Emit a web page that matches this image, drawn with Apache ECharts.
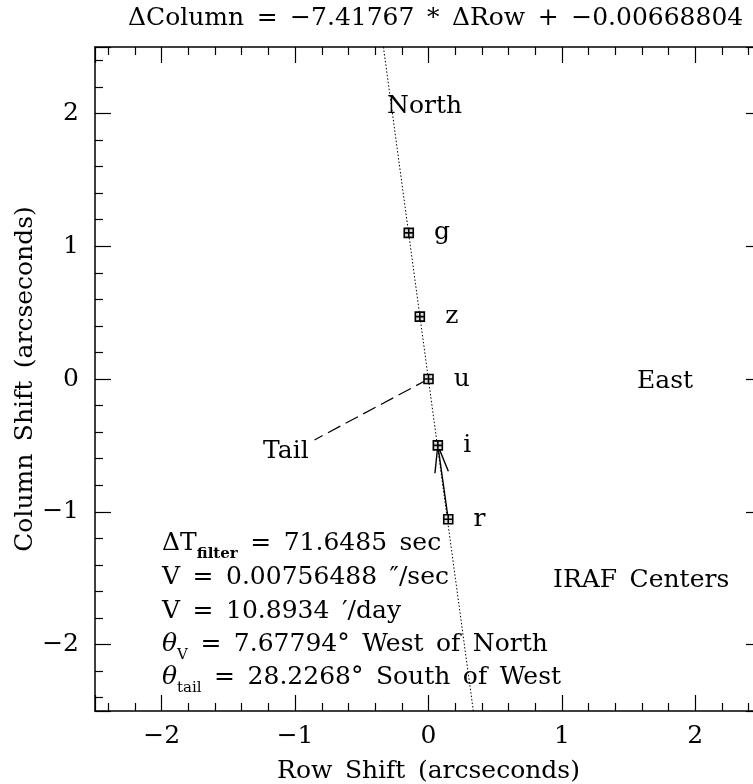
<!DOCTYPE html>
<html><head><meta charset="utf-8">
<script src="https://cdn.jsdelivr.net/npm/echarts@6/dist/echarts.min.js"></script>
<style>html,body{margin:0;padding:0;background:#fff}#c{width:753px;height:784px}</style>
</head><body><div id="c"></div>
<script>
// ---- data ----
const filterNames = ['g', 'z', 'u', 'i', 'r'];
const rowShift = [-0.148, -0.065, 0.0, 0.07, 0.148];
const columnShift = [1.10, 0.47, 0.0, -0.50, -1.056];
const fitSlope = -7.41767;
const fitIntercept = -0.00668804;
const axisRange = [-2.5, 2.5];
const tickLabels = [-2, -1, 0, 1, 2];
const deltaTFilter = 71.6485;
const velocityPerSec = 0.00756488;
const velocityPerDay = 10.8934;
const thetaV = 7.67794;
const thetaTail = 28.2268;
const tailLength = 0.97;
const tailOrigin = 'u';
const arrowFrom = 'r';
const arrowTo = 'i';

// ---- helpers ----
const F = '"DejaVu Serif", "Liberation Serif", serif';
const FS = 25;
const sp = s => s.replace(/ /g, '\u2002');
const fmt = v => (v < 0 ? '\u2212' + String(Math.abs(v)) : String(v));

const fitLine = axisRange.map(y => [(y - fitIntercept) / fitSlope, y]);
const iu = filterNames.indexOf(tailOrigin);
const tr = thetaTail * Math.PI / 180;
const tailLine = [
  [rowShift[iu], columnShift[iu]],
  [rowShift[iu] - tailLength * Math.cos(tr), columnShift[iu] - tailLength * Math.sin(tr)]
];
const ia = filterNames.indexOf(arrowFrom), ib = filterNames.indexOf(arrowTo);

function labelFmt(v) {
  const hit = tickLabels.find(t => Math.abs(t - v) < 1e-9);
  return hit === undefined ? '' : fmt(hit);
}

function axisCfg(pos, showLabel, extra) {
  return Object.assign({
    type: 'value', min: axisRange[0], max: axisRange[1], position: pos,
    nameMoveOverlap: false,
    axisLine: { show: true, onZero: false, lineStyle: { color: '#000', width: 1.5 } },
    axisTick: { show: true, inside: true, length: 16, lineStyle: { color: '#000', width: 1.2 } },
    minorTick: { show: true, splitNumber: 5, length: 8, lineStyle: { color: '#000', width: 1.2 } },
    splitLine: { show: false }, minorSplitLine: { show: false },
    axisLabel: { show: showLabel, formatter: labelFmt, color: '#000', fontFamily: F, fontSize: FS },
    nameTextStyle: { color: '#000', fontFamily: F, fontSize: FS }
  }, extra || {});
}

const rich = {
  m: { fontFamily: F, fontSize: FS, lineHeight: 38, fill: '#000' },
  it: { fontFamily: F, fontSize: FS, lineHeight: 38, fill: '#000', fontStyle: 'italic' },
  s: { fontFamily: F, fontSize: 15, lineHeight: 15, fill: '#000', verticalAlign: 'bottom' },
  b: { fontFamily: F, fontSize: 15, lineHeight: 15, fill: '#000', verticalAlign: 'bottom', fontWeight: 'bold' }
};
function txt(x, y, text, useRich) {
  const style = { text: sp(text), x: 0, y: 0, fill: '#000', fontFamily: F, fontSize: FS, align: 'left', verticalAlign: 'middle' };
  if (useRich) style.rich = rich;
  return { type: 'text', x: x, y: y, style: style, z: 100 };
}

const chart = echarts.init(document.getElementById('c'));
chart.setOption({
  animation: false,
  backgroundColor: '#fff',
  title: {
    text: sp('\u0394Column = ' + fmt(fitSlope) + ' * \u0394Row + ' + fmt(fitIntercept)),
    left: 128, top: 5, padding: 0,
    textStyle: { color: '#000', fontFamily: F, fontSize: FS, fontWeight: 'normal', lineHeight: 26 }
  },
  grid: { left: 95, top: 47, width: 667, height: 664, containLabel: false, outerBoundsMode: 'none' },
  xAxis: [
    axisCfg('bottom', true, { name: sp('Row Shift (arcseconds)'), nameLocation: 'middle', nameGap: 48,
      axisLabel: { show: true, formatter: labelFmt, color: '#000', fontFamily: F, fontSize: FS, margin: 13 } }),
    axisCfg('top', false)
  ],
  yAxis: [
    axisCfg('left', true, { name: sp('Column Shift (arcseconds)'), nameLocation: 'middle', nameGap: 57,
      axisLabel: { show: true, formatter: labelFmt, color: '#000', fontFamily: F, fontSize: FS, margin: 16 } }),
    axisCfg('right', false)
  ],
  series: [
    {
      type: 'line', data: fitLine, symbol: 'none', silent: true, z: 2,
      lineStyle: { color: '#000', width: 1, type: [1.5, 2] }
    },
    {
      type: 'line', data: tailLine, symbol: 'none', silent: true, z: 2,
      lineStyle: { color: '#000', width: 1.2, type: [14, 6] }
    },
    {
      type: 'custom', coordinateSystem: 'cartesian2d', z: 3, silent: true,
      data: [[rowShift[ia], columnShift[ia], rowShift[ib], columnShift[ib]]],
      encode: { x: [0, 2], y: [1, 3] },
      renderItem: function (params, api) {
        const p0 = api.coord([api.value(0), api.value(1)]);
        const p1 = api.coord([api.value(2), api.value(3)]);
        const ang = Math.atan2(p0[1] - p1[1], p0[0] - p1[0]);
        const L = 28, a = 14 * Math.PI / 180;
        const h1 = [p1[0] + L * Math.cos(ang + a), p1[1] + L * Math.sin(ang + a)];
        const h2 = [p1[0] + L * Math.cos(ang - a), p1[1] + L * Math.sin(ang - a)];
        return {
          type: 'group', children: [
            { type: 'line', shape: { x1: p0[0], y1: p0[1], x2: p1[0], y2: p1[1] }, style: { stroke: '#000', lineWidth: 1.4 } },
            { type: 'polyline', shape: { points: [h1, p1, h2] }, style: { stroke: '#000', lineWidth: 1.4, fill: null } }
          ]
        };
      }
    },
    {
      type: 'scatter', z: 5, silent: true,
      symbol: 'path://M0,0L10,0L10,10L0,10Z M5,0L5,10 M0,5L10,5',
      symbolSize: 9,
      itemStyle: { color: '#ddd', borderColor: '#000', borderWidth: 1.6, opacity: 1 },
      label: { show: true, position: 'right', distance: 20, formatter: p => p.name,
               color: '#000', fontFamily: F, fontSize: FS },
      data: filterNames.map((n, i) => ({ name: n, value: [rowShift[i], columnShift[i]] }))
    }
  ],
  graphic: [
    txt(387, 106, 'North'),
    txt(637, 381, 'East'),
    txt(263, 451, 'Tail'),
    txt(553, 580, 'IRAF Centers'),
    txt(162, 543, '{m|\u0394T}{b|filter}{m| = ' + deltaTFilter + ' sec}', true),
    txt(162, 577, '{m|V = ' + velocityPerSec + ' \u2033/sec}', true),
    txt(162, 611, '{m|V = ' + velocityPerDay + ' \u2032/day}', true),
    txt(162, 644, '{it|\u03b8}{s|V}{m| = ' + thetaV + '\u00b0 West of North}', true),
    txt(162, 677, '{it|\u03b8}{s|tail}{m| = ' + thetaTail + '\u00b0 South of West}', true)
  ]
});
</script>
</body></html>
